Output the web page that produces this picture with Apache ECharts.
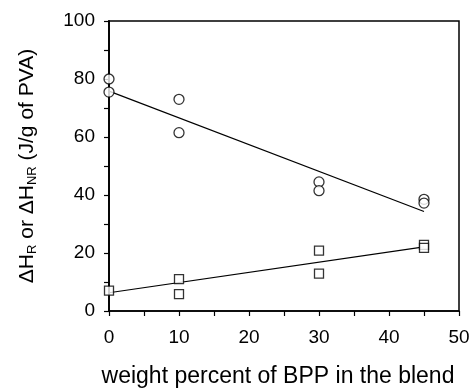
<!DOCTYPE html>
<html>
<head>
<meta charset="utf-8">
<script src="https://cdn.jsdelivr.net/npm/echarts@6/dist/echarts.min.js"></script>
<style>
  html, body { margin: 0; padding: 0; background: #fff; }
  #chart { width: 470px; height: 390px; }
</style>
</head>
<body>
<div id="chart"></div>
<script>
// measured points, heat of fusion vs BPP content
const circleX = [0, 0, 10, 10, 30, 30, 45, 45]
const circleY = [80, 75.5, 73, 61.5, 44.5, 41.5, 38.5, 37.2]
const squareX = [0, 10, 10, 30, 30, 45, 45]
const squareY = [7, 11, 5.8, 20.8, 12.9, 22.8, 21.8]
// regression lines (end points)
const fitX = [0, 45]
const circleFitY = [75.8, 34.3]
const squareFitY = [6.3, 22.1]

const font = 'Liberation Sans'

function pairs(xs, ys) {
  return xs.map(function(x, i) { return [x, ys[i]] })
}

const chart = echarts.init(document.getElementById('chart'))

chart.setOption({
  animation: false,
  backgroundColor: '#fff',
  grid: {
    left: 109,
    right: 11,
    top: 21,
    bottom: 79,
    containLabel: false,
    outerBoundsMode: 'none',
    show: true,
    borderColor: '#000',
    borderWidth: 1.5,
    backgroundColor: 'transparent'
  },
  xAxis: {
    type: 'value',
    min: 0,
    max: 50,
    interval: 10,
    name: 'weight percent of BPP in the blend',
    nameLocation: 'middle',
    nameGap: 54,
    nameTextStyle: { color: '#000', fontFamily: font, fontSize: 23, padding: [0, 12, 0, 0] },
    axisLine: { show: true, lineStyle: { color: '#000', width: 1.5 } },
    axisTick: { show: true, inside: false, length: 5, lineStyle: { color: '#000', width: 1.2 } },
    minorTick: { show: true, splitNumber: 2, length: 5, lineStyle: { color: '#000', width: 1.2 } },
    splitLine: { show: false },
    axisLabel: { color: '#000', fontFamily: font, fontSize: 19, margin: 17 }
  },
  yAxis: {
    type: 'value',
    min: 0,
    max: 100,
    interval: 20,
    name: '{n|ΔH}{s|R}{n| or ΔH}{s|NR}{n| (J/g of PVA)}',
    nameLocation: 'middle',
    nameGap: 70,
    nameRotate: 90,
    nameTextStyle: {
      color: '#000',
      fontFamily: font,
      fontSize: 21,
      rich: {
        n: { color: '#000', fontFamily: font, fontSize: 21 },
        s: { color: '#000', fontFamily: font, fontSize: 13, padding: [11, 0, 0, 0] }
      }
    },
    axisLine: { show: true, lineStyle: { color: '#000', width: 1.8 } },
    axisTick: { show: true, inside: false, length: 5, lineStyle: { color: '#000', width: 1.2 } },
    minorTick: { show: true, splitNumber: 2, length: 5, lineStyle: { color: '#000', width: 1.2 } },
    splitLine: { show: false },
    axisLabel: { color: '#000', fontFamily: font, fontSize: 19, margin: 14 }
  },
  series: [
    {
      type: 'line',
      data: pairs(fitX, circleFitY),
      symbol: 'none',
      lineStyle: { color: '#000', width: 1.2 },
      z: 1
    },
    {
      type: 'line',
      data: pairs(fitX, squareFitY),
      symbol: 'none',
      lineStyle: { color: '#000', width: 1.2 },
      z: 1
    },
    {
      type: 'scatter',
      data: pairs(circleX, circleY),
      symbol: 'circle',
      symbolSize: 10,
      itemStyle: { color: '#fff', borderColor: '#000', borderWidth: 1.3 },
      z: 3
    },
    {
      type: 'scatter',
      data: pairs(squareX, squareY),
      symbol: 'rect',
      symbolSize: 9,
      itemStyle: { color: '#fff', borderColor: '#000', borderWidth: 1.3 },
      z: 3
    }
  ]
})
</script>
</body>
</html>
